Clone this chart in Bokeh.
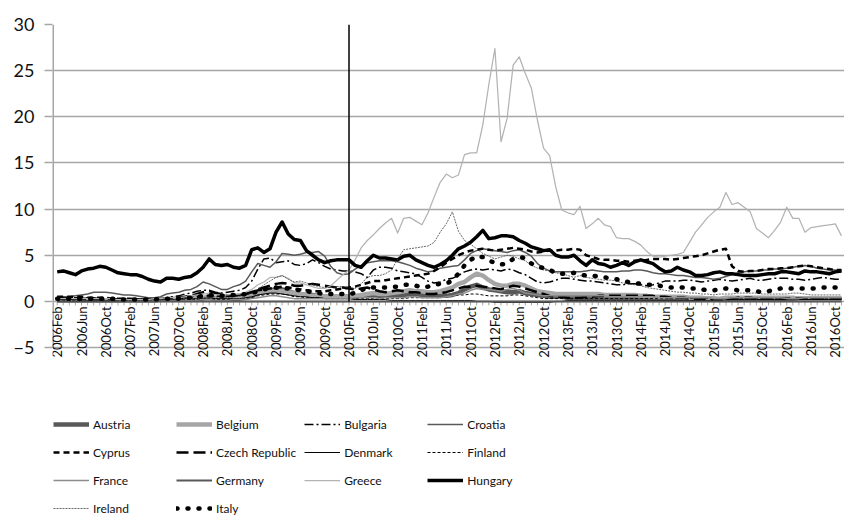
import math
from bokeh.plotting import figure
from bokeh.models import Range1d, FixedTicker, Legend, LegendItem
from bokeh.core.properties import value
from bokeh.embed import file_html
from bokeh.resources import INLINE

# ---- categories -------------------------------------------------------------
month_names = ["Jan", "Feb", "Mar", "Apr", "May", "Jun", "Jul", "Aug", "Sep", "Oct", "Nov", "Dec"]
all_months = [f"{y}{m}" for y in range(2006, 2017) for m in month_names]
months = all_months[all_months.index("2006Feb"): all_months.index("2016Nov") + 1]
tick_labels = months[::4]          # 2006Feb, 2006Jun, ... 2016Oct
y_ticks = [-5, 0, 5, 10, 15, 20, 25, 30]
event_month = "2010Feb"

# ---- series values ----------------------------------------------------------
austria = [
    0.1, 0.1, 0.1, 0.1, 0.1, 0.1, 0.1, 0.1, 0.1, 0.1,
    0.1, 0.1, 0.1, 0.1, 0.1, 0.1, 0.1, 0.2, 0.2, 0.2,
    0.2, 0.3, 0.3, 0.3, 0.3, 0.4, 0.3, 0.3, 0.3, 0.3,
    0.3, 0.4, 0.6, 0.9, 1.1, 1.2, 1.3, 1.3, 1.1, 0.9,
    0.8, 0.7, 0.7, 0.6, 0.5, 0.5, 0.5, 0.5, 0.5, 0.5,
    0.6, 0.7, 0.7, 0.6, 0.6, 0.6, 0.6, 0.7, 0.8, 0.8,
    0.7, 0.6, 0.6, 0.6, 0.6, 0.7, 0.9, 1.3, 1.6, 1.8,
    1.5, 1.3, 1.2, 1.1, 1.0, 1.0, 1.1, 0.9, 0.8, 0.7,
    0.6, 0.5, 0.5, 0.5, 0.4, 0.4, 0.4, 0.4, 0.4, 0.4,
    0.4, 0.4, 0.4, 0.4, 0.4, 0.4, 0.4, 0.4, 0.4, 0.3,
    0.3, 0.3, 0.3, 0.3, 0.3, 0.3, 0.3, 0.3, 0.3, 0.2,
    0.2, 0.3, 0.3, 0.3, 0.3, 0.3, 0.3, 0.3, 0.3, 0.3,
    0.3, 0.3, 0.3, 0.3, 0.3, 0.3, 0.3, 0.3, 0.3, 0.3]
belgium = [
    0.1, 0.1, 0.1, 0.1, 0.1, 0.1, 0.1, 0.1, 0.1, 0.1,
    0.1, 0.1, 0.1, 0.1, 0.1, 0.1, 0.1, 0.2, 0.2, 0.3,
    0.3, 0.3, 0.4, 0.4, 0.4, 0.5, 0.4, 0.4, 0.4, 0.4,
    0.5, 0.5, 0.7, 0.9, 1.0, 1.1, 1.1, 1.1, 1.0, 0.9,
    0.8, 0.7, 0.6, 0.6, 0.5, 0.5, 0.5, 0.5, 0.6, 0.6,
    0.7, 0.8, 0.9, 0.8, 0.8, 0.9, 1.0, 1.1, 1.2, 1.1,
    1.1, 1.0, 1.0, 1.1, 1.3, 1.5, 1.9, 2.1, 2.6, 3.0,
    2.8, 2.3, 1.9, 1.7, 1.7, 1.9, 1.9, 1.7, 1.4, 1.1,
    1.0, 0.9, 0.8, 0.8, 0.8, 0.8, 0.8, 0.8, 0.8, 0.8,
    0.7, 0.7, 0.7, 0.7, 0.7, 0.7, 0.6, 0.6, 0.5, 0.5,
    0.5, 0.5, 0.5, 0.5, 0.4, 0.4, 0.4, 0.3, 0.3, 0.3,
    0.4, 0.4, 0.4, 0.4, 0.4, 0.4, 0.4, 0.4, 0.4, 0.4,
    0.4, 0.4, 0.3, 0.3, 0.3, 0.3, 0.3, 0.3, 0.3, 0.3]
bulgaria = [
    0.4, 0.4, 0.4, 0.4, 0.4, 0.4, 0.4, 0.3, 0.3, 0.3,
    0.3, 0.2, 0.2, 0.2, 0.2, 0.2, 0.2, 0.3, 0.4, 0.5,
    0.6, 0.8, 0.9, 1.1, 1.2, 1.2, 1.0, 0.9, 1.0, 1.1,
    1.2, 1.5, 2.2, 3.5, 4.6, 4.7, 4.2, 4.3, 4.4, 4.0,
    3.9, 4.1, 4.5, 4.2, 3.8, 3.5, 3.4, 3.3, 3.3, 3.2,
    3.0, 2.6, 3.4, 3.7, 3.7, 3.6, 3.3, 3.2, 3.1, 3.0,
    2.6, 2.2, 2.0, 2.1, 2.4, 2.5, 2.8, 3.2, 3.4, 3.5,
    3.4, 3.5, 3.4, 3.3, 3.5, 3.4, 3.1, 2.9, 2.5, 2.1,
    2.0, 2.1, 2.3, 2.5, 2.5, 2.4, 2.3, 2.2, 2.2, 2.1,
    2.0, 1.9, 1.8, 1.8, 1.9, 1.9, 1.8, 1.7, 1.8, 2.0,
    2.2, 2.2, 2.2, 2.3, 2.3, 2.2, 2.1, 2.2, 2.3, 2.4,
    2.3, 2.2, 2.3, 2.4, 2.5, 2.3, 2.3, 2.4, 2.5, 2.5,
    2.5, 2.4, 2.4, 2.3, 2.4, 2.5, 2.6, 2.5, 2.4, 2.4]
croatia = [
    0.5, 0.5, 0.5, 0.6, 0.7, 0.8, 1.0, 1.0, 1.0, 0.9,
    0.8, 0.7, 0.7, 0.6, 0.5, 0.4, 0.4, 0.5, 0.8, 0.9,
    1.0, 1.2, 1.3, 1.6, 2.1, 1.9, 1.6, 1.3, 1.3, 1.6,
    1.8, 2.2, 3.2, 4.1, 3.9, 3.7, 4.3, 5.2, 5.1, 5.0,
    5.1, 5.3, 5.3, 5.4, 4.9, 3.8, 3.1, 2.9, 3.0, 3.5,
    3.9, 4.2, 4.3, 4.4, 4.4, 4.4, 4.3, 4.1, 3.9, 3.6,
    3.4, 3.2, 3.3, 3.6, 3.7, 3.8, 3.9, 4.5, 5.2, 5.5,
    5.7, 5.6, 5.5, 5.4, 5.3, 5.5, 5.6, 5.3, 4.9, 4.1,
    3.6, 3.3, 3.2, 3.2, 3.2, 3.2, 3.2, 3.3, 3.4, 3.3,
    3.2, 3.2, 3.2, 3.3, 3.3, 3.4, 3.4, 3.3, 3.1, 3.0,
    3.0, 2.9, 2.8, 2.8, 2.7, 2.6, 2.6, 2.5, 2.4, 2.5,
    2.7, 2.9, 3.1, 3.2, 3.3, 3.3, 3.4, 3.4, 3.5, 3.5,
    3.6, 3.7, 3.8, 3.9, 3.8, 3.6, 3.5, 3.4, 3.4, 3.3]
cyprus = [
    0.5, 0.5, 0.5, 0.5, 0.5, 0.4, 0.4, 0.4, 0.4, 0.3,
    0.3, 0.3, 0.3, 0.2, 0.2, 0.2, 0.2, 0.2, 0.3, 0.3,
    0.3, 0.4, 0.4, 0.5, 0.6, 0.6, 0.6, 0.6, 0.6, 0.7,
    0.7, 0.8, 1.0, 1.2, 1.3, 1.4, 1.5, 1.6, 1.5, 1.4,
    1.3, 1.2, 1.1, 1.1, 1.1, 1.2, 1.3, 1.4, 1.5, 1.6,
    1.8, 2.0, 2.2, 2.2, 2.3, 2.4, 2.5, 2.6, 2.7, 2.8,
    2.9, 3.0, 3.3, 3.7, 4.2, 4.6, 5.0, 5.3, 5.5, 5.6,
    5.7, 5.6, 5.5, 5.6, 5.7, 5.8, 5.7, 5.6, 5.4, 5.3,
    5.4, 5.5, 5.5, 5.6, 5.6, 5.7, 5.6, 5.0, 4.8, 4.6,
    4.5, 4.5, 4.4, 4.4, 4.3, 4.4, 4.4, 4.5, 4.6, 4.6,
    4.6, 4.5, 4.6, 4.7, 4.8, 4.9, 5.0, 5.2, 5.4, 5.6,
    5.7, 3.8, 3.3, 3.2, 3.3, 3.3, 3.4, 3.5, 3.5, 3.6,
    3.6, 3.7, 3.8, 3.9, 3.8, 3.7, 3.6, 3.5, 3.4, 3.4]
czech_republic = [
    0.3, 0.3, 0.3, 0.3, 0.3, 0.3, 0.2, 0.2, 0.2, 0.1,
    0.1, 0.1, 0.1, 0.1, 0.1, 0.1, 0.1, 0.2, 0.3, 0.4,
    0.4, 0.5, 0.6, 0.8, 1.0, 1.1, 0.9, 0.8, 0.6, 0.6,
    0.7, 0.8, 1.0, 1.3, 1.5, 1.7, 1.9, 2.0, 1.9, 1.7,
    1.7, 1.8, 1.9, 1.8, 1.7, 1.6, 1.5, 1.5, 1.4, 1.3,
    1.4, 1.5, 1.3, 1.1, 1.0, 1.1, 1.2, 1.1, 1.0, 1.0,
    0.9, 0.8, 0.8, 0.9, 1.0, 1.2, 1.4, 1.6, 1.6, 1.7,
    1.6, 1.5, 1.4, 1.3, 1.5, 1.7, 1.6, 1.4, 1.2, 1.0,
    0.8, 0.6, 0.5, 0.5, 0.4, 0.4, 0.4, 0.5, 0.5, 0.6,
    0.6, 0.6, 0.6, 0.6, 0.6, 0.6, 0.6, 0.6, 0.6, 0.5,
    0.5, 0.4, 0.4, 0.4, 0.3, 0.3, 0.3, 0.3, 0.2, 0.2,
    0.2, 0.3, 0.4, 0.4, 0.4, 0.3, 0.3, 0.3, 0.3, 0.3,
    0.3, 0.3, 0.3, 0.3, 0.3, 0.3, 0.3, 0.3, 0.3, 0.3]
denmark = [
    0.2, 0.2, 0.2, 0.2, 0.1, 0.1, 0.1, 0.1, 0.1, 0.1,
    0.1, 0.1, 0.1, 0.1, 0.1, 0.1, 0.1, 0.2, 0.2, 0.2,
    0.2, 0.3, 0.3, 0.3, 0.3, 0.4, 0.3, 0.3, 0.3, 0.3,
    0.3, 0.4, 0.5, 0.7, 0.8, 0.9, 0.9, 0.8, 0.7, 0.6,
    0.5, 0.5, 0.4, 0.4, 0.3, 0.3, 0.3, 0.3, 0.3, 0.2,
    0.2, 0.2, 0.2, 0.2, 0.2, 0.1, 0.1, 0.1, 0.1, 0.1,
    0.1, 0.1, 0.1, 0.1, 0.1, 0.1, 0.1, 0.1, 0.1, 0.0,
    0.0, 0.0, -0.1, -0.1, -0.1, -0.1, -0.1, -0.1, -0.1, -0.1,
    -0.1, -0.1, 0.0, 0.0, 0.1, 0.1, 0.1, 0.1, 0.1, 0.1,
    0.1, 0.1, 0.1, 0.1, 0.1, 0.1, 0.1, 0.1, 0.1, 0.1,
    0.1, 0.1, 0.1, 0.1, 0.1, 0.1, 0.1, 0.1, 0.1, 0.1,
    0.2, 0.2, 0.2, 0.2, 0.2, 0.2, 0.2, 0.2, 0.2, 0.2,
    0.2, 0.2, 0.2, 0.2, 0.2, 0.2, 0.2, 0.2, 0.2, 0.2]
finland = [
    0.1, 0.1, 0.1, 0.1, 0.1, 0.1, 0.1, 0.1, 0.1, 0.1,
    0.1, 0.1, 0.1, 0.1, 0.1, 0.1, 0.1, 0.1, 0.1, 0.1,
    0.1, 0.2, 0.2, 0.2, 0.2, 0.3, 0.2, 0.2, 0.2, 0.2,
    0.2, 0.3, 0.4, 0.6, 0.7, 0.8, 0.8, 0.8, 0.7, 0.5,
    0.5, 0.4, 0.4, 0.4, 0.3, 0.3, 0.3, 0.3, 0.3, 0.3,
    0.3, 0.3, 0.3, 0.3, 0.3, 0.3, 0.3, 0.3, 0.4, 0.4,
    0.4, 0.4, 0.4, 0.4, 0.5, 0.6, 0.7, 0.7, 0.8, 0.8,
    0.7, 0.6, 0.6, 0.6, 0.6, 0.7, 0.7, 0.6, 0.5, 0.4,
    0.3, 0.3, 0.3, 0.3, 0.3, 0.3, 0.3, 0.3, 0.3, 0.3,
    0.3, 0.3, 0.3, 0.3, 0.3, 0.3, 0.3, 0.3, 0.3, 0.3,
    0.3, 0.3, 0.3, 0.3, 0.3, 0.3, 0.3, 0.3, 0.2, 0.2,
    0.2, 0.2, 0.3, 0.3, 0.3, 0.3, 0.3, 0.3, 0.3, 0.3,
    0.3, 0.3, 0.3, 0.3, 0.3, 0.3, 0.3, 0.3, 0.3, 0.3]
france = [
    0.0, 0.0, 0.0, 0.0, 0.0, 0.0, 0.0, 0.0, 0.0, 0.0,
    0.0, 0.0, 0.0, 0.0, 0.0, 0.0, 0.1, 0.1, 0.1, 0.1,
    0.1, 0.1, 0.1, 0.1, 0.2, 0.2, 0.1, 0.1, 0.1, 0.2,
    0.2, 0.2, 0.3, 0.4, 0.5, 0.6, 0.6, 0.5, 0.4, 0.3,
    0.3, 0.3, 0.3, 0.3, 0.3, 0.3, 0.3, 0.3, 0.3, 0.4,
    0.4, 0.4, 0.4, 0.3, 0.4, 0.4, 0.4, 0.4, 0.5, 0.5,
    0.4, 0.4, 0.4, 0.4, 0.5, 0.6, 0.8, 0.9, 1.2, 1.4,
    1.3, 1.3, 1.2, 1.1, 1.3, 1.4, 1.2, 0.9, 0.8, 0.7,
    0.6, 0.6, 0.6, 0.6, 0.6, 0.6, 0.6, 0.6, 0.6, 0.6,
    0.6, 0.5, 0.5, 0.5, 0.5, 0.5, 0.5, 0.5, 0.5, 0.4,
    0.4, 0.4, 0.4, 0.4, 0.4, 0.4, 0.4, 0.4, 0.3, 0.3,
    0.3, 0.4, 0.4, 0.4, 0.4, 0.4, 0.4, 0.4, 0.4, 0.4,
    0.3, 0.3, 0.3, 0.4, 0.4, 0.4, 0.4, 0.4, 0.4, 0.4]
germany = [
    0.0, 0.0, 0.0, 0.0, 0.0, 0.0, 0.0, 0.0, 0.0, 0.0,
    0.0, 0.0, 0.0, 0.0, 0.0, 0.0, 0.0, 0.0, 0.0, 0.0,
    0.0, 0.0, 0.0, 0.0, 0.0, 0.0, 0.0, 0.0, 0.0, 0.0,
    0.0, 0.0, 0.0, 0.0, 0.0, 0.0, 0.0, 0.0, 0.0, 0.0,
    0.0, 0.0, 0.0, 0.0, 0.0, 0.0, 0.0, 0.0, 0.0, 0.0,
    0.0, 0.0, 0.0, 0.0, 0.0, 0.0, 0.0, 0.0, 0.0, 0.0,
    0.0, 0.0, 0.0, 0.0, 0.0, 0.0, 0.0, 0.0, 0.0, 0.0,
    0.0, 0.0, 0.0, 0.0, 0.0, 0.0, 0.0, 0.0, 0.0, 0.0,
    0.0, 0.0, 0.0, 0.0, 0.0, 0.0, 0.0, 0.0, 0.0, 0.0,
    0.0, 0.0, 0.0, 0.0, 0.0, 0.0, 0.0, 0.0, 0.0, 0.0,
    0.0, 0.0, 0.0, 0.0, 0.0, 0.0, 0.0, 0.0, 0.0, 0.0,
    0.0, 0.0, 0.0, 0.0, 0.0, 0.0, 0.0, 0.0, 0.0, 0.0,
    0.0, 0.0, 0.0, 0.0, 0.0, 0.0, 0.0, 0.0, 0.0, 0.0]
greece = [
    0.3, 0.3, 0.3, 0.3, 0.3, 0.3, 0.3, 0.3, 0.3, 0.3,
    0.2, 0.2, 0.2, 0.2, 0.2, 0.2, 0.3, 0.3, 0.4, 0.4,
    0.4, 0.5, 0.6, 0.7, 0.8, 0.9, 0.7, 0.7, 0.7, 0.8,
    0.8, 1.0, 1.3, 1.8, 2.1, 2.6, 2.6, 2.8, 2.5, 2.0,
    2.0, 1.8, 1.6, 1.4, 1.4, 1.7, 2.3, 2.9, 3.4, 4.5,
    5.8, 6.6, 7.2, 7.9, 8.5, 9.0, 7.4, 9.0, 9.1, 8.7,
    8.3, 9.6, 11.3, 12.9, 13.8, 13.4, 13.7, 15.9, 16.1, 16.1,
    19.1, 23.5, 27.4, 17.3, 19.8, 25.6, 26.5, 24.7, 23.1, 19.6,
    16.6, 15.8, 12.4, 9.9, 9.6, 9.4, 10.3, 7.9, 8.4, 9.0,
    8.3, 8.1, 6.9, 6.8, 6.8, 6.5, 6.1, 5.4, 4.9, 4.8,
    4.9, 5.0, 5.1, 5.3, 6.4, 7.5, 8.3, 9.1, 9.7, 10.2,
    11.8, 10.5, 10.7, 10.2, 9.7, 7.9, 7.4, 6.9, 7.7, 8.6,
    10.2, 9.0, 9.0, 7.5, 8.0, 8.1, 8.2, 8.3, 8.4, 7.1]
hungary = [
    3.2, 3.3, 3.1, 2.9, 3.3, 3.5, 3.6, 3.8, 3.7, 3.4,
    3.1, 3.0, 2.9, 2.9, 2.7, 2.4, 2.2, 2.1, 2.5, 2.5,
    2.4, 2.6, 2.7, 3.1, 3.7, 4.6, 4.0, 3.9, 4.0, 3.7,
    3.6, 3.9, 5.6, 5.8, 5.3, 5.7, 7.5, 8.6, 7.3, 6.7,
    6.6, 5.5, 5.0, 4.5, 4.2, 4.4, 4.5, 4.5, 4.5, 3.9,
    3.7, 4.4, 5.0, 4.7, 4.7, 4.6, 4.5, 4.9, 5.0, 4.5,
    4.2, 3.9, 3.7, 4.0, 4.4, 5.0, 5.7, 6.0, 6.4, 7.0,
    7.7, 6.8, 6.9, 7.1, 7.1, 7.0, 6.6, 6.3, 5.9, 5.7,
    5.5, 5.6, 5.0, 4.8, 4.8, 5.0, 4.4, 3.9, 4.5, 4.1,
    4.0, 3.7, 3.9, 4.2, 3.9, 4.3, 4.5, 4.3, 4.1, 3.6,
    3.2, 3.3, 3.7, 3.4, 3.2, 2.8, 2.8, 2.9, 3.1, 3.2,
    3.0, 3.0, 2.9, 2.8, 2.8, 2.8, 2.9, 3.0, 3.0, 3.2,
    3.2, 3.1, 3.0, 3.3, 3.2, 3.2, 3.1, 3.0, 3.2, 3.3]
ireland = [
    0.0, 0.0, 0.0, 0.0, 0.0, 0.0, 0.0, 0.0, 0.0, 0.0,
    0.0, 0.1, 0.1, 0.1, 0.1, 0.1, 0.1, 0.1, 0.2, 0.2,
    0.2, 0.3, 0.3, 0.3, 0.4, 0.5, 0.5, 0.4, 0.4, 0.5,
    0.6, 0.7, 0.9, 1.3, 1.8, 2.2, 2.6, 2.8, 2.4, 2.1,
    2.2, 2.0, 1.8, 1.6, 1.5, 1.5, 1.6, 1.6, 1.5, 1.4,
    1.9, 2.6, 2.8, 2.8, 3.0, 3.4, 4.6, 5.6, 5.7, 5.8,
    5.9, 6.0, 6.4, 7.5, 8.4, 9.7, 7.6, 6.6, 6.2, 5.7,
    5.2, 4.9, 4.6, 4.8, 5.0, 4.9, 4.6, 4.4, 3.9, 3.6,
    3.4, 3.3, 3.1, 3.0, 2.8, 2.6, 2.8, 2.6, 2.5, 2.4,
    2.3, 2.3, 2.2, 2.0, 1.9, 1.8, 1.7, 1.5, 1.4, 1.3,
    1.2, 1.1, 1.0, 1.0, 0.9, 0.9, 0.8, 0.8, 0.7, 0.8,
    0.8, 0.8, 0.9, 0.9, 0.9, 0.9, 0.8, 0.8, 0.8, 0.8,
    0.8, 0.9, 0.9, 0.8, 0.7, 0.7, 0.7, 0.7, 0.7, 0.7]
italy = [
    0.3, 0.3, 0.3, 0.3, 0.3, 0.3, 0.3, 0.3, 0.3, 0.3,
    0.2, 0.2, 0.2, 0.2, 0.2, 0.2, 0.2, 0.3, 0.3, 0.3,
    0.3, 0.4, 0.4, 0.5, 0.6, 0.7, 0.6, 0.6, 0.6, 0.7,
    0.7, 0.8, 0.9, 1.1, 1.3, 1.4, 1.5, 1.4, 1.4, 1.3,
    1.2, 1.1, 1.0, 0.9, 0.8, 0.8, 0.8, 0.8, 0.8, 0.9,
    1.2, 1.5, 1.5, 1.5, 1.5, 1.6, 1.6, 1.8, 1.8, 1.7,
    1.5, 1.6, 1.8, 1.9, 1.9, 2.3, 3.0, 3.9, 4.5, 4.9,
    4.8, 4.4, 4.2, 4.0, 4.1, 4.6, 4.8, 4.7, 4.1, 3.8,
    3.6, 3.4, 3.1, 3.0, 3.0, 3.1, 2.9, 2.8, 2.8, 2.7,
    2.6, 2.5, 2.4, 2.2, 2.1, 2.0, 1.9, 1.8, 1.8, 1.7,
    1.6, 1.5, 1.5, 1.5, 1.4, 1.4, 1.3, 1.2, 1.2, 1.3,
    1.4, 1.3, 1.2, 1.2, 1.2, 1.1, 1.0, 1.1, 1.3, 1.4,
    1.4, 1.4, 1.4, 1.4, 1.4, 1.4, 1.5, 1.5, 1.5, 1.5]

# ---- styles: (name, values, colour, width, dash) ----------------------------
series = [
    ("Austria", austria, "#595959", 4.5, "solid"),
    ("Belgium", belgium, "#a6a6a6", 4.5, "solid"),
    ("Bulgaria", bulgaria, "#000000", 1.5, "9 3 2 3"),
    ("Croatia", croatia, "#595959", 1.5, "solid"),
    ("Cyprus", cyprus, "#000000", 2.5, "6 4"),
    ("Czech Republic", czech_republic, "#000000", 2.5, "12 5"),
    ("Denmark", denmark, "#000000", 1.0, "solid"),
    ("Finland", finland, "#000000", 1.0, "3 2"),
    ("France", france, "#8c8c8c", 1.5, "solid"),
    ("Germany", germany, "#595959", 2.0, "solid"),
    ("Greece", greece, "#b3b3b3", 1.25, "solid"),
    ("Hungary", hungary, "#000000", 3.5, "solid"),
    ("Ireland", ireland, "#404040", 0.8, "2 1"),
    ("Italy", italy, "#000000", 4.5, "1 10"),
]

x = list(range(len(months)))
for name, vals, *_ in series:
    assert len(vals) == len(months), (name, len(vals))

GRID = "#a6a6a6"
FONT = "Lato"
PX_PER_UNIT = 9.23            # vertical scale of the reference
Y_TOP = y_ticks[-1]
Y_BOTTOM = Y_TOP - (518 - 24) / PX_PER_UNIT   # frame reaches page bottom (room for legend)

p = figure(width=844, height=518, output_backend="svg", toolbar_location=None,
           x_range=Range1d(-0.77, 129.5), y_range=Range1d(Y_BOTTOM, Y_TOP),
           x_axis_location=None,
           min_border_left=52, min_border_right=0, min_border_top=24,
           min_border_bottom=0, outline_line_color=None)
p.title.visible = False

# y axis / grid (only -5 .. 30)
p.yaxis.ticker = FixedTicker(ticks=y_ticks)
p.yaxis.major_label_text_font = FONT
p.yaxis.major_label_text_font_size = "18px"
p.yaxis.major_label_text_color = "#111111"
p.yaxis.major_label_standoff = 10
p.yaxis.axis_line_color = None
p.yaxis.major_tick_line_color = GRID
p.yaxis.major_tick_line_width = 1.5
p.yaxis.major_tick_out = 8
p.yaxis.major_tick_in = 0
p.yaxis.minor_tick_line_color = None
p.ygrid.grid_line_color = GRID
p.ygrid.grid_line_width = 1.5
p.xgrid.visible = False

# vertical axis line, from -5 to 30 only
x0 = p.x_range.start
p.segment(x0=[x0], y0=[y_ticks[0]], x1=[x0], y1=[Y_TOP], line_color=GRID, line_width=3)

# category axis crossing at 0: month tick marks and labels
tick_len = 4 / PX_PER_UNIT
p.segment(x0=x, y0=[0] * len(x), x1=x, y1=[-tick_len] * len(x), line_color=GRID, line_width=1)
tick_pos = [months.index(t) for t in tick_labels]
p.text(x=tick_pos, y=[0] * len(tick_pos), text=tick_labels, angle=math.pi / 2,
       text_align="right", text_baseline="middle", y_offset=5,
       text_font=value(FONT), text_font_size="13px", text_color="#111111")

items = []
for name, vals, color, width, dash in series:
    r = p.line(x, vals, line_color=color, line_width=width, line_dash=dash,
               line_cap="round" if name == "Italy" else "butt", line_join="round")
    items.append(LegendItem(label=name, renderers=[r]))

# vertical marker line at 2010Feb
ev = months.index(event_month)
p.segment(x0=[ev], y0=[0], x1=[ev], y1=[Y_TOP], line_color="#000000", line_width=1.5)

legend = Legend(items=items, location=(1, 0), orientation="horizontal", ncols=4,
                glyph_width=36, glyph_height=20, label_standoff=4, label_width=75,
                label_height=20, spacing=8, padding=0, margin=0,
                border_line_color=None, background_fill_alpha=0,
                label_text_font=FONT, label_text_font_size="12px",
                label_text_color="#111111")
p.add_layout(legend)

open("out.html", "w").write(file_html(p, INLINE))
